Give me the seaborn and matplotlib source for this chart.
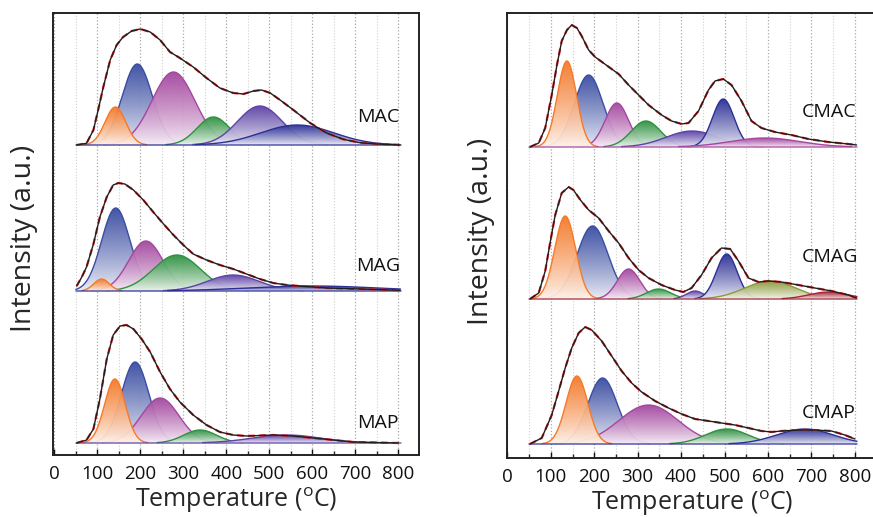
import numpy as np
import pandas as pd
import seaborn as sns
import matplotlib.pyplot as plt
from matplotlib.colors import LinearSegmentedColormap
from matplotlib.ticker import MultipleLocator

sns.set_theme(style='white')
plt.rcParams['font.family'] = ['Open Sans', 'DejaVu Sans']
plt.rcParams['mathtext.fontset'] = 'custom'
plt.rcParams['mathtext.rm'] = 'Open Sans'

MAC_T = [52, 75, 91, 102, 114, 130, 145, 160, 180, 200, 223, 246, 269, 292, 323, 354,
         385, 416, 440, 463, 482, 502, 525, 556, 595, 633, 672, 711, 750, 804]
MAC_I = [0, 1.7, 15, 35, 58, 85, 100, 108, 114, 116, 113, 105, 93, 87, 78, 67,
         57, 52, 51, 54, 55, 52, 45, 35, 22, 12, 5.7, 2.3, 1, 0]

MAG_T = [52, 64, 75, 91, 106, 122, 137, 149, 164, 184, 207, 230, 254, 277, 300, 323,
         354, 385, 416, 447, 478, 509, 540, 571, 633, 711, 804]
MAG_I = [5, 14, 24, 47, 74, 94, 106, 108, 107, 101, 91, 79, 67, 56, 46, 37,
         31, 26, 22, 17, 12, 8, 6, 5, 3, 2, 0.7]

MAP_T = [52, 75, 91, 106, 122, 137, 153, 168, 184, 203, 223, 246, 269, 292, 323, 354,
         385, 416, 447, 509, 556, 602, 649, 695, 800]
MAP_I = [0, 3, 14, 44, 84, 108, 117, 118, 114, 104, 91, 71, 54, 41, 28, 18,
         11, 8, 7, 8, 7, 5, 3, 1, 0]

CMAC_T = [52, 72, 87, 102, 114, 125, 137, 148, 160, 171, 187, 202, 221, 240, 256, 279,
          302, 325, 355, 378, 401, 417, 440, 463, 478, 497, 516, 539, 562, 585, 616,
          654, 693, 739, 785, 804]
CMAC_I = [0, 4, 19, 52, 82, 106, 117, 122, 119, 111, 97, 90, 84, 78, 73, 62,
          52, 42, 32, 26, 23, 24, 36, 57, 66, 68, 62, 46, 26, 19, 15,
          12, 8, 5, 3, 2]

CMAG_T = [52, 72, 87, 99, 110, 125, 141, 152, 168, 187, 210, 233, 256, 279, 302, 325,
          355, 386, 405, 424, 447, 470, 493, 513, 532, 555, 578, 601, 631, 670, 708,
          746, 785, 804]
CMAG_I = [0, 6, 28, 58, 84, 106, 112, 109, 99, 89, 81, 68, 56, 41, 29, 21,
          14, 9, 7, 11, 24, 41, 51, 50, 38, 21, 17, 18, 17, 14, 11,
          8, 4, 1]

CMAP_T = [52, 79, 102, 118, 133, 148, 164, 179, 194, 217, 240, 263, 286, 309, 340, 371,
          401, 432, 463, 493, 524, 555, 585, 608, 631, 670, 708, 746, 777, 800]
CMAP_I = [0, 6, 29, 53, 76, 96, 111, 117, 114, 103, 88, 73, 61, 52, 43, 36,
          30, 25, 23, 21, 19, 16, 13, 12, 13, 14, 14, 13, 9, 5]

# fitted gaussian components: centre (C), height (a.u.), sigma (C)
MAC_PEAK_T = [142, 193, 277, 370, 478, 565]
MAC_PEAK_H = [38, 81, 73, 28, 39, 20]
MAC_PEAK_W = [24, 35, 50, 38, 52, 85]

MAG_PEAK_T = [110, 143, 213, 285, 416, 600]
MAG_PEAK_H = [12, 83, 50, 36, 16, 5]
MAG_PEAK_W = [18, 33, 40, 55, 60, 150]

MAP_PEAK_T = [141, 188, 246, 339, 540]
MAP_PEAK_H = [64, 81, 45, 13, 8]
MAP_PEAK_W = [24, 32, 44, 38, 80]

CMAC_PEAK_T = [137, 187, 252, 319, 425, 497, 593]
CMAC_PEAK_H = [86, 72, 44, 26, 16, 48, 9]
CMAC_PEAK_W = [22, 33, 27, 34, 60, 25, 80]

CMAG_PEAK_T = [133, 196, 279, 348, 432, 505, 605, 739]
CMAG_PEAK_H = [83, 73, 30, 10, 8, 45, 18, 7]
CMAG_PEAK_W = [24, 36, 26, 28, 20, 24, 59, 45]

CMAP_PEAK_T = [160, 219, 325, 505, 685]
CMAP_PEAK_H = [68, 66, 39, 15, 15]
CMAP_PEAK_W = [25, 34, 68, 49, 65]

ORANGE = '#f47a2a'
BLUE = '#3a4da2'
MAGENTA = '#a4479f'
GREEN = '#2f9141'
PURPLE = '#5c43a6'
NAVY = '#2c3096'
OLIVE = '#8b9a3b'
DARKRED = '#a3283a'

samples = [
    # axis, name, env T, env I, centres, heights, widths, colours, offset, label pos
    (0, 'MAC', MAC_T, MAC_I, MAC_PEAK_T, MAC_PEAK_H, MAC_PEAK_W,
     [ORANGE, BLUE, MAGENTA, GREEN, PURPLE, NAVY], 310, (753, 338)),
    (0, 'MAG', MAG_T, MAG_I, MAG_PEAK_T, MAG_PEAK_H, MAG_PEAK_W,
     [ORANGE, BLUE, MAGENTA, GREEN, PURPLE, NAVY], 164, (753, 189)),
    (0, 'MAP', MAP_T, MAP_I, MAP_PEAK_T, MAP_PEAK_H, MAP_PEAK_W,
     [ORANGE, BLUE, MAGENTA, GREEN, PURPLE], 12, (753, 32)),
    (1, 'CMAC', CMAC_T, CMAC_I, CMAC_PEAK_T, CMAC_PEAK_H, CMAC_PEAK_W,
     [ORANGE, BLUE, MAGENTA, GREEN, PURPLE, NAVY, MAGENTA], 311, (740, 346)),
    (1, 'CMAG', CMAG_T, CMAG_I, CMAG_PEAK_T, CMAG_PEAK_H, CMAG_PEAK_W,
     [ORANGE, BLUE, MAGENTA, GREEN, PURPLE, NAVY, OLIVE, DARKRED], 159, (743, 201)),
    (1, 'CMAP', CMAP_T, CMAP_I, CMAP_PEAK_T, CMAP_PEAK_H, CMAP_PEAK_W,
     [ORANGE, BLUE, MAGENTA, GREEN, NAVY], 14, (740, 45)),
]


def draw_peak(ax, t, base, centre, height, width, color, z):
    y = height * np.exp(-0.5 * ((t - centre) / width) ** 2)
    cmap = LinearSegmentedColormap.from_list('fade', ['#ffffff', color])
    poly = ax.fill_between(t, base, base + y, facecolor='none', edgecolor='none', zorder=z)
    grad = np.linspace(0.05, 1.0, 256) ** 0.8
    im = ax.imshow(grad.reshape(-1, 1), extent=[t[0], t[-1], base, base + height],
                   origin='lower', aspect='auto', cmap=cmap, vmin=0, vmax=1,
                   alpha=0.95, zorder=z, interpolation='bilinear')
    im.set_clip_path(poly.get_paths()[0], transform=ax.transData)
    # outline only where the peak rises above the baseline
    ax.plot(t, np.where(y > 0.4, base + y, np.nan), color=color, lw=1.0, zorder=z + 0.5)


fig = plt.figure(figsize=(8.73, 5.17), dpi=100)
ax_l = fig.add_axes([53 / 873, 62 / 517, 366 / 873, 442 / 517])
ax_r = fig.add_axes([507 / 873, 59 / 517, 370 / 873, 445 / 517])
axes = [ax_l, ax_r]

t = np.linspace(50, 805, 700)

for idx, name, env_t, env_i, cen, hei, wid, cols, off, lab in samples:
    ax = axes[idx]
    n = len(cen)
    for i in range(n):
        # first (low temperature) peak sits in front of the second one
        z = 2 + n if i == 0 else 2 + i
        draw_peak(ax, t, off, cen[i], hei[i], wid[i], cols[i], z)
    ax.plot([50, 805], [off, off], color=cols[-1], lw=1.1, alpha=0.8, zorder=2 + n + 1)
    df = pd.DataFrame({'T': env_t, 'I': np.array(env_i) + off})
    sns.lineplot(data=df, x='T', y='I', ax=ax, color='#e8262a', lw=1.6, zorder=30,
                 linestyle=(0, (3, 2)))
    sns.lineplot(data=df, x='T', y='I', ax=ax, color='#1e1e1e', lw=1.0, zorder=31)
    ax.text(lab[0], lab[1], name, ha='center', va='center', fontsize=14,
            color='#111111', zorder=40)

ax_l.set_xlim(-3, 848)
ax_l.set_ylim(0, 442)
ax_r.set_xlim(-1, 851)
ax_r.set_ylim(0, 445)

for ax in axes:
    ax.set_xticks(range(0, 801, 100))
    ax.xaxis.set_minor_locator(MultipleLocator(50))
    ax.set_yticks([])
    ax.tick_params(axis='x', which='major', direction='in', length=4, width=1,
                   bottom=True, labelsize=13.5, pad=7, colors='#111111')
    ax.tick_params(axis='x', which='minor', direction='in', length=3, width=1,
                   bottom=True)
    ax.grid(axis='x', which='major', ls=':', color='#a8a8a8', lw=0.9)
    ax.grid(axis='x', which='minor', ls=':', color='#cfcfcf', lw=0.8)
    ax.set_axisbelow(True)
    for sp in ax.spines.values():
        sp.set_visible(True)
        sp.set_color('#222222')
        sp.set_linewidth(1.4)
    ax.set_xlabel(r'Temperature ($^{\mathrm{o}}$C)', fontsize=18, labelpad=2)
    ax.set_ylabel('Intensity (a.u.)', fontsize=20.5)

ax_l.yaxis.set_label_coords(-0.042, 0.49)
ax_r.yaxis.set_label_coords(-0.033, 0.51)

fig.savefig('out.png', dpi=100)
